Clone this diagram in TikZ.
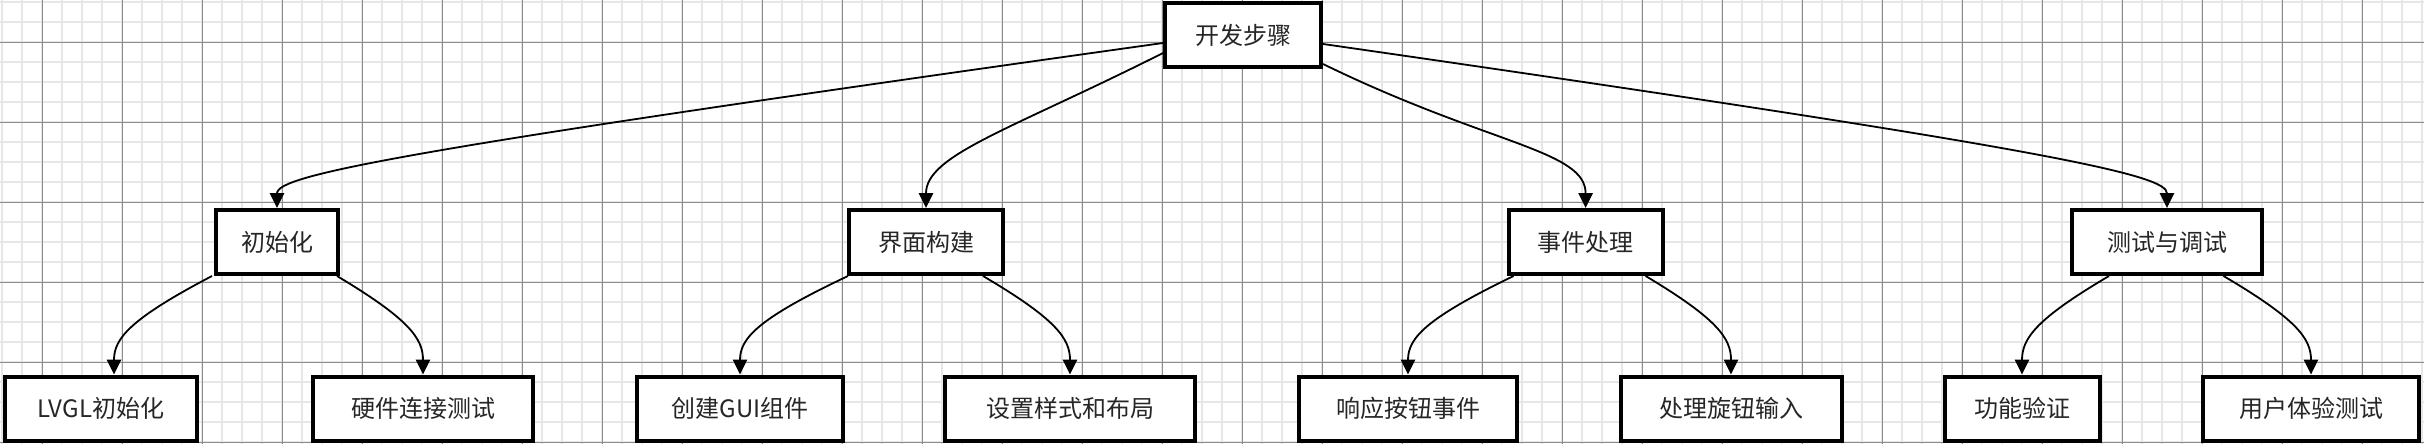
\documentclass[tikz,border=0pt]{standalone}
\usepackage{fontspec}
\setmainfont{Noto Sans CJK SC}
\usetikzlibrary{arrows.meta}
\usepackage{xcolor}
\definecolor{minorgrid}{HTML}{E6E6E6}
\definecolor{majorgrid}{HTML}{8C8C8C}

\begin{document}
\begin{tikzpicture}[x=0.5pt, y=-0.5pt,
  stepbox/.style={draw=black, line width=2pt, fill=white, minimum height=32pt, inner sep=0pt, text=black!85, font=\fontsize{12}{14}\selectfont},
  link/.style={line width=0.9pt, -{Triangle[width=7.2pt,length=7.5pt]}},
  thingrid/.style={draw=minorgrid, line width=1pt},
  thickgrid/.style={draw=majorgrid, line width=0.5pt}]
%% page size and a white sheet under everything
\useasboundingbox (0,0) rectangle (2424,444);
\fill[white] (0,0) rectangle (2424,444);
%% the squared paper: light lines first, the darker ones every fourth line on top
\foreach \gx in {2.3,22.3,...,2422.3} \draw[thingrid] (\gx,0) -- (\gx,444);
\foreach \gy in {2.3,22.3,...,442.3} \draw[thingrid] (0,\gy) -- (2424,\gy);
\foreach \gx in {42.3,122.3,...,2362.3} \draw[thickgrid] (\gx,0) -- (\gx,444);
\foreach \gy in {42.3,122.3,...,442.3} \draw[thickgrid] (0,\gy) -- (2424,\gy);
%% top of the tree
\node[stepbox, minimum width=78pt] (root) at (1243,35.5) {开发步骤};
%% the four stages
\node[stepbox, minimum width=61pt] (init) at (277,242) {初始化};
\node[stepbox, minimum width=77pt] (ui) at (926,242) {界面构建};
\node[stepbox, minimum width=77pt] (event) at (1585.6,242) {事件处理};
\node[stepbox, minimum width=95pt] (test) at (2167,242) {测试与调试};
%% the tasks under each stage
\node[stepbox, minimum width=96pt] (lvgl) at (101,408.5) {LVGL初始化};
\node[stepbox, minimum width=110pt] (hw) at (423,408.5) {硬件连接测试};
\node[stepbox, minimum width=103pt] (gui) at (740,408.5) {创建GUI组件};
\node[stepbox, minimum width=125pt] (style) at (1070,408.5) {设置样式和布局};
\node[stepbox, minimum width=109pt] (btn) at (1408,408.5) {响应按钮事件};
\node[stepbox, minimum width=110.5pt] (knob) at (1731,408.5) {处理旋钮输入};
\node[stepbox, minimum width=77.5pt] (func) at (2022,408.5) {功能验证};
\node[stepbox, minimum width=108pt] (ux) at (2311,408.5) {用户体验测试};
%% arrows from the top box
\draw[link] ([shift={(0,7.5)}]root.west) .. controls +(-763,107) and +(0,-33) .. (init.north);
\draw[link] ([shift={(0,17.5)}]root.west) .. controls +(-153,77) and +(0,-53) .. (ui.north);
\draw[link] ([shift={(0,28.5)}]root.east) .. controls +(166,81) and +(0,-58) .. (event.north);
\draw[link] ([shift={(0,8.5)}]root.east) .. controls +(736,106) and +(0,-33) .. (test.north);
%% arrows from the stages down to the tasks
\draw[link] ([shift={(-65,0)}]init.south) .. controls +(-82,43) and +(0,-36) .. ([shift={(13,0)}]lvgl.north);
\draw[link] ([shift={(60,0)}]init.south) .. controls +(72,43) and +(0,-36) .. (hw.north);
\draw[link] ([shift={(-78,0)}]ui.south) .. controls +(-91,43) and +(0,-36) .. (gui.north);
\draw[link] ([shift={(57,0)}]ui.south) .. controls +(73,43) and +(0,-36) .. (style.north);
\draw[link] ([shift={(-72,0)}]event.south) .. controls +(-89,43) and +(0,-36) .. (btn.north);
\draw[link] ([shift={(60,0)}]event.south) .. controls +(72,43) and +(0,-36) .. (knob.north);
\draw[link] ([shift={(-58,0)}]test.south) .. controls +(-73,43) and +(0,-36) .. (func.north);
\draw[link] ([shift={(56.5,0)}]test.south) .. controls +(73,43) and +(0,-36) .. (ux.north);
\end{tikzpicture}
\end{document}
